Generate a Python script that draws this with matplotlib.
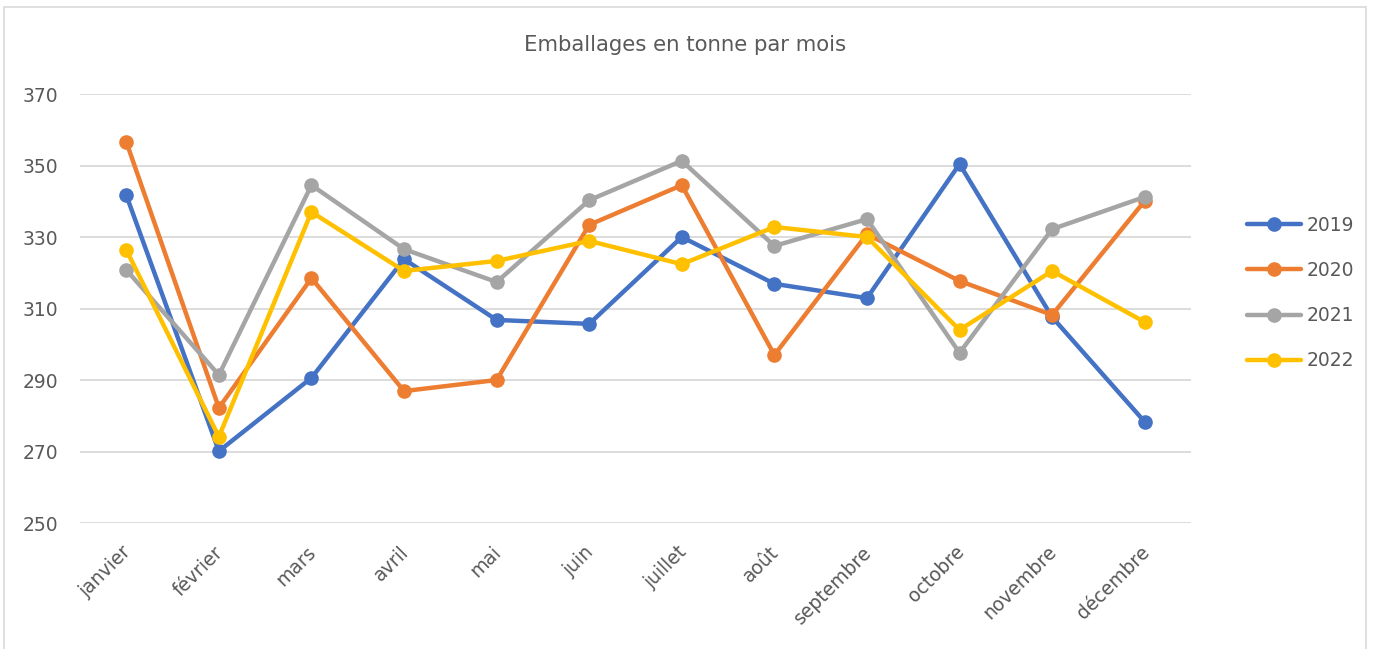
import matplotlib.pyplot as plt
import matplotlib.transforms as mtrans
from matplotlib.patches import Rectangle

# months and yearly series (tonnes)
mois = ['janvier', 'février', 'mars', 'avril', 'mai', 'juin', 'juillet',
        'août', 'septembre', 'octobre', 'novembre', 'décembre']
v2019 = [341.7, 270.1, 290.6, 323.8, 306.8, 305.7, 330.0, 316.9, 312.9, 350.4, 307.6, 278.3]
v2020 = [356.6, 282.2, 318.5, 286.9, 290.0, 333.4, 344.5, 297.0, 330.8, 317.7, 308.2, 340.1]
v2021 = [320.8, 291.4, 344.5, 326.6, 317.4, 340.3, 351.3, 327.5, 335.0, 297.6, 332.2, 341.2]
v2022 = [326.4, 274.1, 337.0, 320.5, 323.3, 328.9, 322.4, 332.8, 330.0, 304.0, 320.5, 306.2]

series = [('2019', v2019, '#4472C4'), ('2020', v2020, '#ED7D31'),
          ('2021', v2021, '#A5A5A5'), ('2022', v2022, '#FFC000')]
txt = '#595959'

fig = plt.figure(figsize=(13.76, 6.49), dpi=100)
ax = fig.add_axes([80/1376, 1-523/649, 1111/1376, 429/649])

x = range(len(mois))
for name, vals, col in series:
    ax.plot(x, vals, color=col, lw=3.2, marker='o', ms=9.5,
            solid_capstyle='round', label=name)

ax.set_ylim(250, 370)
ax.set_yticks(range(250, 371, 20))
ax.set_xlim(-0.5, 11.5)
ax.set_xticks(list(x))
ax.set_xticklabels(mois, rotation=45, ha='right', va='top', rotation_mode='anchor')
ax.grid(axis='y', color='#D9D9D9', lw=1.3)
ax.set_axisbelow(True)
for s in ax.spines.values():
    s.set_visible(False)
ax.tick_params(length=0, labelsize=13.5, colors=txt)
ax.tick_params(axis='y', pad=16)
ax.tick_params(axis='x', pad=14)

# nudge month labels a little to the left
shift = mtrans.ScaledTranslation(-5/100, 0, fig.dpi_scale_trans)
for lab in ax.get_xticklabels():
    lab.set_transform(lab.get_transform() + shift)

fig.text(685/1376, 1-45/649, 'Emballages en tonne par mois', ha='center', va='center',
         fontsize=15.3, color=txt)

fig.legend(loc='center left', bbox_to_anchor=(1230/1376, 1-293/649), frameon=False,
           fontsize=13.5, labelcolor=txt, handlelength=2.9, handletextpad=0.3,
           labelspacing=1.4)

fig.patches.append(Rectangle((4/1376, -0.05), 1362/1376, 1.05-7/649, transform=fig.transFigure,
                             fill=False, edgecolor='#D9D9D9', lw=1.2))

fig.savefig('out.png', dpi=100)
